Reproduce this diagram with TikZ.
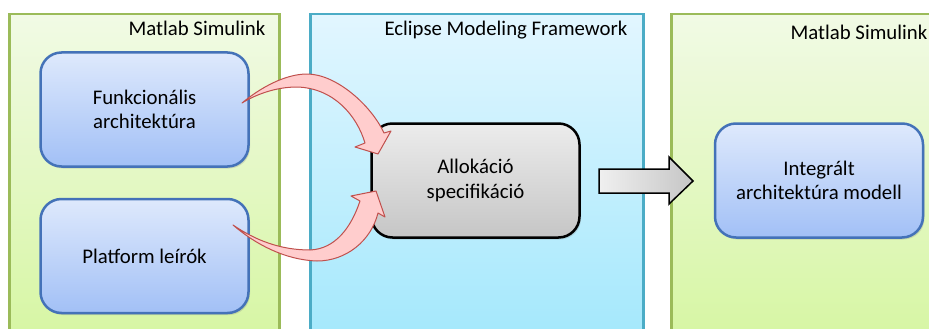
\documentclass[tikz,border=0pt]{standalone}
\usepackage{fontspec}
\setmainfont{Carlito}
\usepackage{tikz}
\usetikzlibrary{calc, positioning, shadows}
\definecolor{simborder}{RGB}{155,187,89}
\definecolor{simtop}{RGB}{241,250,229}
\definecolor{simbottom}{RGB}{214,246,162}
\definecolor{emfborder}{RGB}{75,172,198}
\definecolor{emftop}{RGB}{226,246,255}
\definecolor{emfbottom}{RGB}{163,232,252}
\definecolor{boxborder}{RGB}{68,114,184}
\definecolor{boxtop}{RGB}{222,233,252}
\definecolor{boxbottom}{RGB}{162,192,246}
\definecolor{arrowborder}{RGB}{192,80,77}
\definecolor{arrowfill}{RGB}{255,205,205}
\tikzset{
    simpanel/.style={draw=simborder, line width=2.5pt, top color=simtop, bottom color=simbottom, anchor=north west, minimum height=330pt},
    emfpanel/.style={draw=emfborder, line width=2.5pt, top color=emftop, bottom color=emfbottom, anchor=north west, minimum height=330pt},
    paneltitle/.style={inner sep=0pt, anchor=base east},
    blockbox/.style={draw=boxborder, line width=2.5pt, rounded corners=21pt, top color=boxtop, bottom color=boxbottom, align=center, minimum width=208pt, minimum height=114pt, drop shadow={shadow xshift=1.5pt, shadow yshift=-2pt, opacity=.25}},
    allocbox/.style={blockbox, draw=black, top color=gray!15, bottom color=gray!45},
    curvedarrow/.style={draw=arrowborder, line width=1pt, fill=arrowfill, line join=round},
    blockarrow/.style={draw=black, line width=1.5pt, left color=gray!12, right color=gray!45, line join=miter} }

\begin{document}
\begin{tikzpicture}[x=1pt, y=-1pt, font=\fontsize{20.8}{24.5}\selectfont]
    \useasboundingbox (0,0) rectangle (929,329);
    \clip (0,0) rectangle (929,329);
    % panels
    \node[simpanel, minimum width=270pt] (simL) at (8,13) {};
    \node[emfpanel, minimum width=333pt] (emf) at (309,13) {};
    \node[simpanel, minimum width=275pt] (simR) at (670,13) {};
    \node[paneltitle] (simLtitle) at ($(simL.north east)+(-15,23)$) {Matlab Simulink};
    \node[paneltitle] (emftitle) at ($(emf.north east)+(-17,23)$) {Eclipse Modeling Framework};
    \node[paneltitle] (simRtitle) at ($(simR.north east)+(-20,27)$) {Matlab Simulink};
    % blocks
    \node[blockbox] (funk) at (144.5,109.5) {Funkcionális\\architektúra};
    \node[blockbox, below=30pt of funk] (plat) {Platform leírók};
    \node[allocbox] (alloc) at (475.5,180.5) {Allokáció\\specifikáció};
    \node[blockbox, right=133pt of alloc] (integ) {Integrált\\architektúra modell};
    % ----
    \draw[curvedarrow] (242,103) .. controls (260,88) and (285,74) .. (307,74)
        .. controls (336,74) and (371,105) .. (384,133) -- (391,131) -- (378,154)
        -- (355,147) -- (365,143) .. controls (357,116) and (334,88) .. (297,87)
        .. controls (275,87) and (255,95) .. cycle;
    \draw[curvedarrow] (233,225) .. controls (255,244) and (285,260) .. (317,261)
        .. controls (346,261) and (371,241) .. (378,213) -- (385,217) -- (376,191)
        -- (351,196) -- (360,201) .. controls (351,228) and (335,249) .. (310,250)
        .. controls (280,250) and (255,240) .. cycle;
    \draw[blockarrow] (599,169) -- (669,169) -- (669,157) -- (693,181)
        -- (669,204) -- (669,193) -- (599,193) -- cycle;
\end{tikzpicture}
\end{document}
